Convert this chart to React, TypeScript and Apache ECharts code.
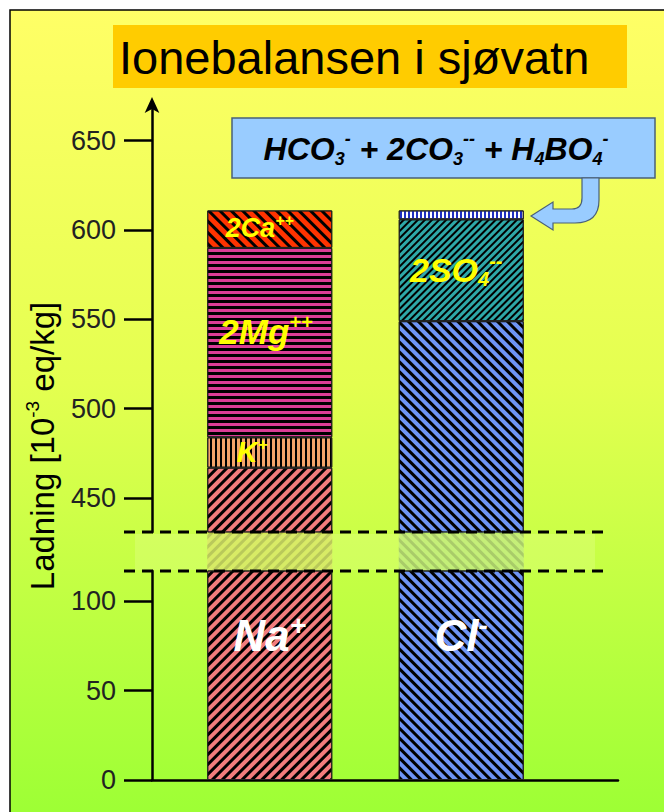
import React, { useEffect, useRef } from "react";
import * as echarts from "echarts";

// ---- data (10^-3 eq/kg) ----
const categories = ["Kationar", "Anionar"];
const naPlus = [467, "-"];
const kPlus = [17, "-"];
const mgPlus = [106, "-"];
const caPlus = [21, "-"];
const clMinus = ["-", 549];
const so4Minus = ["-", 57];
const hco3Minus = ["-", 5];
const upperTicks = [450, 500, 550, 600, 650];
const lowerTicks = [0, 50, 100];

const FONT = "'Liberation Sans', Arial, sans-serif";

const stripe = (color: string, rotation: number, on: number, off: number, vertical = false) => ({
  symbol: "rect",
  symbolSize: 1,
  color,
  rotation,
  dashArrayX: vertical ? [on, off] : [1, 0],
  dashArrayY: vertical ? [1, 0] : [on, off],
});

const styles: Record<string, any> = {
  na: { color: "#F27C7C", decal: stripe("#000", -Math.PI / 4, 2.5, 3.5) },
  k: { color: "#F4A46A", decal: stripe("#000", 0, 1.5, 3, true) },
  mg: { color: "#DC3C96", decal: stripe("#000", 0, 2.3, 2.2) },
  ca: { color: "#FF3300", decal: stripe("#000", Math.PI / 4, 3, 4.5) },
  cl: { color: "#6E94F5", decal: stripe("#000", Math.PI / 4, 2.5, 3.5) },
  so4: { color: "#2EA8A8", decal: stripe("#000", -Math.PI / 4, 1.5, 2.5) },
  hco3: { color: "#FFFFFF", decal: stripe("#1f2fbf", 0, 2, 2, true) },
};

const yellowLabel = (fmt: string, m: number, s: number, pos: any = "inside") => ({
  show: true,
  position: pos,
  align: "center",
  verticalAlign: "middle",
  formatter: fmt,
  rich: {
    m: { fontSize: m, lineHeight: m + 4, fontWeight: "bold", fontStyle: "italic", color: "#FFFF00", fontFamily: FONT },
    s: { fontSize: s, lineHeight: m + 4, fontWeight: "bold", fontStyle: "italic", color: "#FFFF00", fontFamily: FONT, verticalAlign: "top" },
    b: { fontSize: s, lineHeight: m + 4, fontWeight: "bold", fontStyle: "italic", color: "#FFFF00", fontFamily: FONT, verticalAlign: "bottom" },
  },
});

const whiteLabel = (fmt: string) => ({
  show: true,
  position: ["50%", "31%"],
  align: "center",
  verticalAlign: "middle",
  formatter: fmt,
  rich: {
    m: { fontSize: 44, lineHeight: 48, fontWeight: "bold", fontStyle: "italic", color: "#FFFFFF", fontFamily: FONT },
    s: { fontSize: 28, lineHeight: 48, fontWeight: "bold", fontStyle: "italic", color: "#FFFFFF", fontFamily: FONT, verticalAlign: "top" },
  },
});

const bar = (name: string, data: any[], key: string, grid: number, label: any, faded = false) => ({
  type: "bar",
  name,
  data,
  stack: "s" + grid,
  xAxisIndex: grid,
  yAxisIndex: grid,
  barWidth: 125,
  itemStyle: {
    color: styles[key].color,
    decal: styles[key].decal,
    borderColor: faded ? "transparent" : "#222",
    borderWidth: faded ? 0 : 1,
    opacity: faded ? 0.18 : 1,
  },
  label: label || { show: false },
  emphasis: { disabled: true },
});

const axisStyle = { color: "#000", width: 2.5 };

const ARROW_D =
  "M 582 178 L 599 178 L 599 200 Q 599 223 575 223 L 553 223 L 553 230 L 531 216 L 553 202 L 553 209 L 572 209 Q 582 209 582 198 Z";

export default function App() {
  const ref = useRef<HTMLDivElement>(null);
  useEffect(() => {
    if (!ref.current) return;
    try {
      echarts.graphic.registerShape("curvedArrow", echarts.graphic.extendPath(ARROW_D, {}) as any);
    } catch (e) {}
    const chart = echarts.init(ref.current, null, { renderer: "svg" });
    const catAxis = (gridIndex: number) => ({
      type: "category",
      gridIndex,
      data: categories,
      show: false,
    });
    const yLabel = (values: number[]) => ({
      customValues: values,
      fontSize: 27,
      color: "#222",
      margin: 36,
      fontFamily: FONT,
    });
    const option: any = {
      animation: false,
      backgroundColor: "#ffffff",
      grid: [
        { left: 174, right: 107, top: 105, height: 427 },
        { left: 174, right: 107, top: 532, height: 39 },
        { left: 174, right: 107, top: 571, height: 209 },
        { left: 152, right: 46, top: 760, height: 20 },
      ],
      xAxis: [
        catAxis(0),
        catAxis(1),
        catAxis(2),
        {
          type: "value",
          gridIndex: 3,
          min: 0,
          max: 1,
          axisLine: { show: true, lineStyle: axisStyle },
          axisTick: { show: false },
          axisLabel: { show: false },
          splitLine: { show: false },
        },
      ],
      yAxis: [
        {
          type: "value",
          gridIndex: 0,
          min: 431,
          max: 670,
          offset: 22,
          axisLine: { show: true, onZero: false, lineStyle: axisStyle, symbol: ["none", "arrow"], symbolSize: [11, 16], symbolOffset: [0, 8] },
          axisTick: { show: true, length: 28, customValues: upperTicks, lineStyle: axisStyle },
          axisLabel: yLabel(upperTicks),
          splitLine: { show: false },
        },
        { type: "value", gridIndex: 1, min: 117, max: 431, show: false },
        {
          type: "value",
          gridIndex: 2,
          min: 0,
          max: 117,
          offset: 22,
          axisLine: { show: true, onZero: false, lineStyle: axisStyle },
          axisTick: { show: true, length: 28, customValues: lowerTicks, lineStyle: axisStyle },
          axisLabel: yLabel(lowerTicks),
          splitLine: { show: false },
        },
        { type: "value", gridIndex: 3, show: false },
      ],
      series: [
        bar("Na+", naPlus, "na", 0, null),
        bar("K+", kPlus, "k", 0, yellowLabel("{m|K}{s|+}", 29, 17, ["36%", "50%"])),
        bar("2Mg++", mgPlus, "mg", 0, yellowLabel("{m|2Mg}{s|++}", 35, 20, ["47%", "44%"])),
        bar("2Ca++", caPlus, "ca", 0, yellowLabel("{m|2Ca}{s|++}", 27, 16, ["42%", "48%"])),
        bar("Cl-", clMinus, "cl", 0, null),
        bar("2SO4--", so4Minus, "so4", 0, yellowLabel("{m|2SO}{b|4}{s|--}", 34, 20, ["46%", "50%"])),
        bar("HCO3-", hco3Minus, "hco3", 0, null),
        bar("Na+", naPlus, "na", 1, null, true),
        bar("Cl-", clMinus, "cl", 1, null, true),
        bar("Na+", naPlus, "na", 2, whiteLabel("{m|Na}{s|+}")),
        bar("Cl-", clMinus, "cl", 2, whiteLabel("{m|Cl}{s|-}")),
      ],
      graphic: [
        {
          type: "rect",
          z: -100,
          silent: true,
          shape: { x: 10, y: 10, width: 680, height: 830 },
          style: {
            fill: new echarts.graphic.LinearGradient(0, 0, 0, 1, [
              { offset: 0, color: "#FFFF66" },
              { offset: 0.45, color: "#E4FF50" },
              { offset: 1, color: "#99FF33" },
            ]),
            stroke: "#000",
            lineWidth: 1.5,
          },
        },
        {
          type: "rect",
          z: 50,
          silent: true,
          shape: { x: 113, y: 25, width: 514, height: 63 },
          style: { fill: "#FFCC00" },
        },
        {
          type: "text",
          z: 51,
          x: 119,
          y: 57,
          style: {
            text: "Ionebalansen i sjøvatn",
            fontSize: 47,
            fontFamily: FONT,
            fill: "#000",
            align: "left",
            verticalAlign: "middle",
          },
        },
        {
          type: "rect",
          z: 50,
          silent: true,
          shape: { x: 232, y: 118, width: 423, height: 60 },
          style: { fill: "#99CCFF", stroke: "#4a6078", lineWidth: 1.5 },
        },
        {
          type: "text",
          z: 51,
          x: 436,
          y: 149,
          style: {
            text: "{m|HCO}{b|3}{s|-}{m| + 2CO}{b|3}{s|--}{m| + H}{b|4}{m|BO}{b|4}{s|-}",
            align: "center",
            verticalAlign: "middle",
            rich: {
              m: { fontSize: 32, lineHeight: 38, fontWeight: "bold", fontStyle: "italic", fontFamily: FONT, color: "#000" },
              b: { fontSize: 18, lineHeight: 38, fontWeight: "bold", fontStyle: "italic", fontFamily: FONT, color: "#000", verticalAlign: "bottom" },
              s: { fontSize: 18, lineHeight: 38, fontWeight: "bold", fontStyle: "italic", fontFamily: FONT, color: "#000", verticalAlign: "top" },
            },
          },
        },
        {
          type: "curvedArrow",
          z: 52,
          x: 0,
          y: 0,
          style: { fill: "#99CCFF", stroke: "#4a6078", lineWidth: 1.2 },
        },
        {
          type: "rect",
          z: 40,
          silent: true,
          shape: { x: 135, y: 534, width: 460, height: 36 },
          style: { fill: "rgba(255,255,210,0.18)" },
        },
        {
          type: "line",
          z: 60,
          shape: { x1: 124, y1: 532, x2: 607, y2: 532 },
          style: { stroke: "#000", lineWidth: 3, lineDash: [11, 7] },
        },
        {
          type: "line",
          z: 60,
          shape: { x1: 124, y1: 571, x2: 607, y2: 571 },
          style: { stroke: "#000", lineWidth: 3, lineDash: [11, 7] },
        },
        {
          type: "text",
          z: 51,
          x: 42,
          y: 446,
          rotation: Math.PI / 2,
          style: {
            text: "{a|Ladning [10}{s|-3}{a| eq/kg]}",
            align: "center",
            verticalAlign: "middle",
            rich: {
              a: { fontSize: 33, lineHeight: 38, fontFamily: FONT, color: "#222" },
              s: { fontSize: 19, lineHeight: 38, fontFamily: FONT, color: "#222", verticalAlign: "top" },
            },
          },
        },
      ],
    };
    chart.setOption(option);
    return () => chart.dispose();
  }, []);
  return (
    <div
      ref={ref}
      style={{ position: "fixed", left: 0, top: 0, width: 664, height: 812 }}
    />
  );
}
